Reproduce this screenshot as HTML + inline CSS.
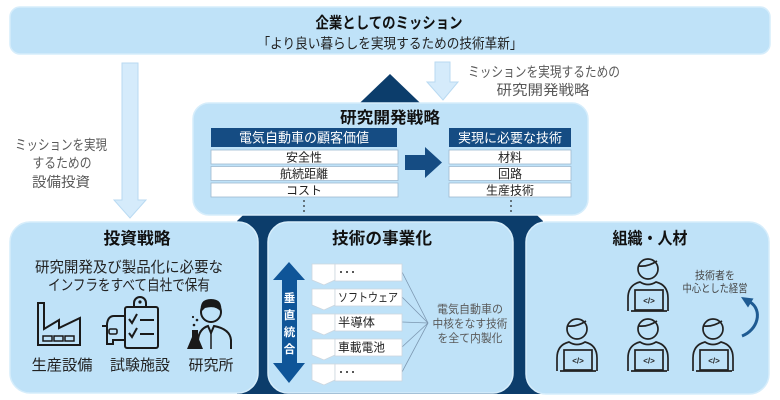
<!DOCTYPE html>
<html><head><meta charset="utf-8"><style>
html,body{margin:0;padding:0;background:#fff;}
svg{display:block;}
text{font-family:"Liberation Sans","Noto Sans CJK JP",sans-serif;}
</style></head><body>
<svg width="780" height="400" viewBox="0 0 780 400" xmlns="http://www.w3.org/2000/svg">
<!-- mission box -->
<rect x="10" y="7" width="760" height="47" rx="10" fill="#bfe2f8" stroke="#d6edfb" stroke-width="1.5"/>
<text x="389" y="28" font-size="15.5" font-weight="bold" text-anchor="middle" fill="#111" textLength="147" lengthAdjust="spacingAndGlyphs">企業としてのミッション</text>
<text x="390" y="48.5" font-size="14" text-anchor="middle" fill="#222" textLength="265" lengthAdjust="spacingAndGlyphs">「より良い暮らしを実現するための技術革新」</text>

<!-- light arrows -->
<polygon points="122,63 138,63 138,200 146,200 130,218 114,200 122,200" fill="#d5ebfb" stroke="#b9daf2" stroke-width="1"/>
<polygon points="435,62 450,62 450,82 458,82 443,100 427,82 435,82" fill="#d5ebfb" stroke="#b9daf2" stroke-width="1"/>

<text x="61" y="150" font-size="14" text-anchor="middle" fill="#595959" textLength="92" lengthAdjust="spacingAndGlyphs">ミッションを実現</text>
<text x="62" y="168" font-size="14" text-anchor="middle" fill="#595959" textLength="59" lengthAdjust="spacingAndGlyphs">するための</text>
<text x="61" y="187" font-size="14" text-anchor="middle" fill="#595959" textLength="58" lengthAdjust="spacingAndGlyphs">設備投資</text>

<text x="544" y="77" font-size="14" text-anchor="middle" fill="#595959" textLength="152" lengthAdjust="spacingAndGlyphs">ミッションを実現するための</text>
<text x="543" y="95" font-size="14" text-anchor="middle" fill="#595959" textLength="93" lengthAdjust="spacingAndGlyphs">研究開発戦略</text>

<!-- dark house -->
<polygon points="390,74 237,221 237,394 543,394 543,221" fill="#0c3d6b"/>

<!-- R&D box -->
<rect x="193" y="103" width="395" height="112" rx="16" fill="#bfe2f8" stroke="#d6edfb" stroke-width="1.5"/>
<text x="390" y="123" font-size="16" font-weight="bold" text-anchor="middle" fill="#111" textLength="100" lengthAdjust="spacingAndGlyphs">研究開発戦略</text>

<rect x="211" y="128" width="186" height="19" fill="#154c83"/>
<text x="304" y="142.5" font-size="13.5" text-anchor="middle" fill="#fff" textLength="130" lengthAdjust="spacingAndGlyphs">電気自動車の顧客価値</text>
<rect x="211" y="150" width="187" height="14" fill="#fff" stroke="#9fb9d0" stroke-width="0.8"/>
<rect x="211" y="166.5" width="187" height="14" fill="#fff" stroke="#9fb9d0" stroke-width="0.8"/>
<rect x="211" y="183" width="187" height="14" fill="#fff" stroke="#9fb9d0" stroke-width="0.8"/>
<text x="304" y="161.5" font-size="12" text-anchor="middle" fill="#222">安全性</text>
<text x="304" y="178" font-size="12" text-anchor="middle" fill="#222">航続距離</text>
<text x="304" y="194.5" font-size="12" text-anchor="middle" fill="#222">コスト</text>
<circle cx="304" cy="201" r="0.9" fill="#222"/><circle cx="304" cy="206" r="0.9" fill="#222"/><circle cx="304" cy="211" r="0.9" fill="#222"/>

<polygon points="405,155 425,155 425,147 442,162.5 425,178 425,170 405,170" fill="#154c83"/>

<rect x="449" y="128" width="122" height="19" fill="#154c83"/>
<text x="510" y="142.5" font-size="13" text-anchor="middle" fill="#fff" textLength="104" lengthAdjust="spacingAndGlyphs">実現に必要な技術</text>
<rect x="449" y="150" width="122" height="14" fill="#fff" stroke="#9fb9d0" stroke-width="0.8"/>
<rect x="449" y="166.5" width="122" height="14" fill="#fff" stroke="#9fb9d0" stroke-width="0.8"/>
<rect x="449" y="183" width="122" height="14" fill="#fff" stroke="#9fb9d0" stroke-width="0.8"/>
<text x="510" y="161.5" font-size="12" text-anchor="middle" fill="#222">材料</text>
<text x="510" y="178" font-size="12" text-anchor="middle" fill="#222">回路</text>
<text x="510" y="194.5" font-size="12" text-anchor="middle" fill="#222">生産技術</text>
<circle cx="511" cy="201" r="0.9" fill="#222"/><circle cx="511" cy="206" r="0.9" fill="#222"/><circle cx="511" cy="211" r="0.9" fill="#222"/>

<!-- bottom boxes -->
<rect x="10" y="222" width="248" height="171" rx="20" fill="#bfe2f8" stroke="#d6edfb" stroke-width="1.5"/>
<rect x="268" y="222" width="245" height="171" rx="20" fill="#bfe2f8" stroke="#d6edfb" stroke-width="1.5"/>
<rect x="526" y="222" width="243" height="172" rx="20" fill="#bfe2f8" stroke="#d6edfb" stroke-width="1.5"/>

<!-- left box content -->
<text x="137" y="244" font-size="16.5" font-weight="bold" text-anchor="middle" fill="#111" textLength="67" lengthAdjust="spacingAndGlyphs">投資戦略</text>
<text x="129" y="272" font-size="15" text-anchor="middle" fill="#222" textLength="188" lengthAdjust="spacingAndGlyphs">研究開発及び製品化に必要な</text>
<text x="129" y="290" font-size="15" text-anchor="middle" fill="#222" textLength="162" lengthAdjust="spacingAndGlyphs">インフラをすべて自社で保有</text>

<!-- factory -->
<g fill="none" stroke="#1a1a1a" stroke-width="2" stroke-linejoin="miter">
<path d="M38,345 V303 H44 V329 L59,320 V328 L80,318 V345 Z"/>
<rect x="43" y="336" width="9" height="5" stroke-width="1.5"/>
<rect x="54" y="336" width="9" height="5" stroke-width="1.5"/>
<rect x="65" y="336" width="9" height="5" stroke-width="1.5"/>
</g>
<!-- clipboard + car -->
<g fill="none" stroke="#1a1a1a" stroke-width="2">
<rect x="125" y="307" width="33" height="41" rx="2"/>
<path d="M134,307 V303 A6,6 0 0 1 146,303 V307"/>
<polyline points="129,319 132,323 137,314"/>
<line x1="140" y1="320" x2="154" y2="320"/>
<polyline points="129,333 132,337 137,328"/>
<line x1="140" y1="334" x2="154" y2="334"/>
<path d="M124,316 H114 Q108,316 107,324 V344 H113 V340 H124"/>
<rect x="109" y="329" width="8" height="5" rx="1.5" stroke-width="1.6"/>
<line x1="102" y1="326" x2="106" y2="326"/>
</g>
<circle cx="140" cy="302" r="1.6" fill="#1a1a1a"/>
<!-- scientist -->
<g fill="none" stroke="#1a1a1a" stroke-width="2">
<circle cx="211" cy="312" r="10"/>
<path d="M198,349 V340 Q199,329 208,326 L211,333 L214,326 Q230,329 231,340 V349"/>
<line x1="211" y1="333" x2="211" y2="349" stroke-width="1.5"/>
</g>
<path d="M201,312 Q199,299 211,299 Q223,299 221,312 Q216,305 205,308 Z" fill="#1a1a1a"/>
<path d="M187,349 L203,349 L198,337 V330 H192 V337 Z" fill="#1a1a1a"/>
<circle cx="194" cy="325" r="1.3" fill="#1a1a1a"/><circle cx="197" cy="320" r="1.3" fill="#1a1a1a"/><circle cx="193" cy="317" r="1.1" fill="#1a1a1a"/>

<text x="62" y="370" font-size="15" text-anchor="middle" fill="#222" textLength="61" lengthAdjust="spacingAndGlyphs">生産設備</text>
<text x="140" y="370" font-size="15" text-anchor="middle" fill="#222" textLength="60" lengthAdjust="spacingAndGlyphs">試験施設</text>
<text x="211" y="370" font-size="15" text-anchor="middle" fill="#222" textLength="45" lengthAdjust="spacingAndGlyphs">研究所</text>

<!-- middle box content -->
<text x="382" y="244" font-size="16.5" font-weight="bold" text-anchor="middle" fill="#111" textLength="100" lengthAdjust="spacingAndGlyphs">技術の事業化</text>
<polygon points="289,262 305,280 297,280 297,363 305,363 289,383 273,363 282,363 282,280 273,280" fill="#0f5598"/>
<text x="289.5" y="302" font-size="11.5" font-weight="bold" text-anchor="middle" fill="#fff">垂</text>
<text x="289.5" y="319" font-size="11.5" font-weight="bold" text-anchor="middle" fill="#fff">直</text>
<text x="289.5" y="336" font-size="11.5" font-weight="bold" text-anchor="middle" fill="#fff">統</text>
<text x="289.5" y="353" font-size="11.5" font-weight="bold" text-anchor="middle" fill="#fff">合</text>

<g stroke="#7c97b0" stroke-width="0.8" fill="none">
<line x1="402" y1="272" x2="428" y2="323"/>
<line x1="402" y1="297" x2="428" y2="323"/>
<line x1="402" y1="322" x2="428" y2="323"/>
<line x1="402" y1="347" x2="428" y2="323"/>
<line x1="402" y1="372" x2="428" y2="323"/>
</g>
<g fill="#fff" stroke="#cdd6de" stroke-width="0.8">
<path d="M312,264 H335 V280 L324,285 L312,280 Z"/><rect x="335" y="264" width="67" height="17"/>
<path d="M312,289 H335 V305 L324,310 L312,305 Z"/><rect x="335" y="289" width="67" height="17"/>
<path d="M312,314 H335 V330 L324,335 L312,330 Z"/><rect x="335" y="314" width="67" height="17"/>
<path d="M312,339 H335 V355 L324,360 L312,355 Z"/><rect x="335" y="339" width="67" height="17"/>
<path d="M312,364 H335 V380 L324,385 L312,380 Z"/><rect x="335" y="364" width="67" height="17"/>
</g>
<g fill="#222"><circle cx="341" cy="272" r="1"/><circle cx="347" cy="272" r="1"/><circle cx="353" cy="272" r="1"/>
<circle cx="341" cy="372" r="1"/><circle cx="347" cy="372" r="1"/><circle cx="353" cy="372" r="1"/></g>
<text x="338" y="301.5" font-size="12" fill="#222" textLength="60" lengthAdjust="spacingAndGlyphs">ソフトウェア</text>
<text x="338" y="326.5" font-size="12" fill="#222" textLength="37" lengthAdjust="spacingAndGlyphs">半導体</text>
<text x="338" y="351.5" font-size="12" fill="#222" textLength="47" lengthAdjust="spacingAndGlyphs">車載電池</text>

<text x="470" y="313" font-size="11.5" text-anchor="middle" fill="#595959" textLength="66" lengthAdjust="spacingAndGlyphs">電気自動車の</text>
<text x="470" y="327.5" font-size="11.5" text-anchor="middle" fill="#595959" textLength="75" lengthAdjust="spacingAndGlyphs">中核をなす技術</text>
<text x="470" y="342" font-size="11.5" text-anchor="middle" fill="#595959" textLength="65" lengthAdjust="spacingAndGlyphs">を全て内製化</text>

<!-- right box content -->
<text x="650" y="244" font-size="16.5" font-weight="bold" text-anchor="middle" fill="#111" textLength="75" lengthAdjust="spacingAndGlyphs">組織・人材</text>
<text x="715" y="279" font-size="11" text-anchor="middle" fill="#444" textLength="40" lengthAdjust="spacingAndGlyphs">技術者を</text>
<text x="715" y="292" font-size="11" text-anchor="middle" fill="#444" textLength="65" lengthAdjust="spacingAndGlyphs">中心とした経営</text>
<path d="M742,336 C758,330 763,310 750,302" fill="none" stroke="#1f5b92" stroke-width="3"/>
<polygon points="741,297 753.5,298.5 748,307.5" fill="#1f5b92"/>

<g transform="translate(648,258)" fill="none" stroke="#222" stroke-width="1.7">
<path d="M-20,53 V40 Q-20,27 -8,24 Q0,29 8,24 Q20,27 20,40 V53"/>
<circle cx="0" cy="11" r="10" fill="#bfe2f8"/>
<path d="M-9,8 Q0,9 9,3"/>
<rect x="-13" y="32" width="28" height="20" fill="#bfe2f8"/>
<line x1="-17" y1="53" x2="19" y2="53"/>
<text x="1" y="45.5" font-size="8" font-weight="bold" text-anchor="middle" fill="#222" stroke="none">&lt;/&gt;</text>
</g>
<g transform="translate(577,318)" fill="none" stroke="#222" stroke-width="1.7">
<path d="M-20,53 V40 Q-20,27 -8,24 Q0,29 8,24 Q20,27 20,40 V53"/>
<circle cx="0" cy="11" r="10" fill="#bfe2f8"/>
<path d="M-9,8 Q0,9 9,3"/>
<rect x="-13" y="32" width="28" height="20" fill="#bfe2f8"/>
<line x1="-17" y1="53" x2="19" y2="53"/>
<text x="1" y="45.5" font-size="8" font-weight="bold" text-anchor="middle" fill="#222" stroke="none">&lt;/&gt;</text>
</g>
<g transform="translate(648,318)" fill="none" stroke="#222" stroke-width="1.7">
<path d="M-20,53 V40 Q-20,27 -8,24 Q0,29 8,24 Q20,27 20,40 V53"/>
<circle cx="0" cy="11" r="10" fill="#bfe2f8"/>
<path d="M-9,8 Q0,9 9,3"/>
<rect x="-13" y="32" width="28" height="20" fill="#bfe2f8"/>
<line x1="-17" y1="53" x2="19" y2="53"/>
<text x="1" y="45.5" font-size="8" font-weight="bold" text-anchor="middle" fill="#222" stroke="none">&lt;/&gt;</text>
</g>
<g transform="translate(713,318)" fill="none" stroke="#222" stroke-width="1.7">
<path d="M-20,53 V40 Q-20,27 -8,24 Q0,29 8,24 Q20,27 20,40 V53"/>
<circle cx="0" cy="11" r="10" fill="#bfe2f8"/>
<path d="M-9,8 Q0,9 9,3"/>
<rect x="-13" y="32" width="28" height="20" fill="#bfe2f8"/>
<line x1="-17" y1="53" x2="19" y2="53"/>
<text x="1" y="45.5" font-size="8" font-weight="bold" text-anchor="middle" fill="#222" stroke="none">&lt;/&gt;</text>
</g>
</svg>
</body></html>
